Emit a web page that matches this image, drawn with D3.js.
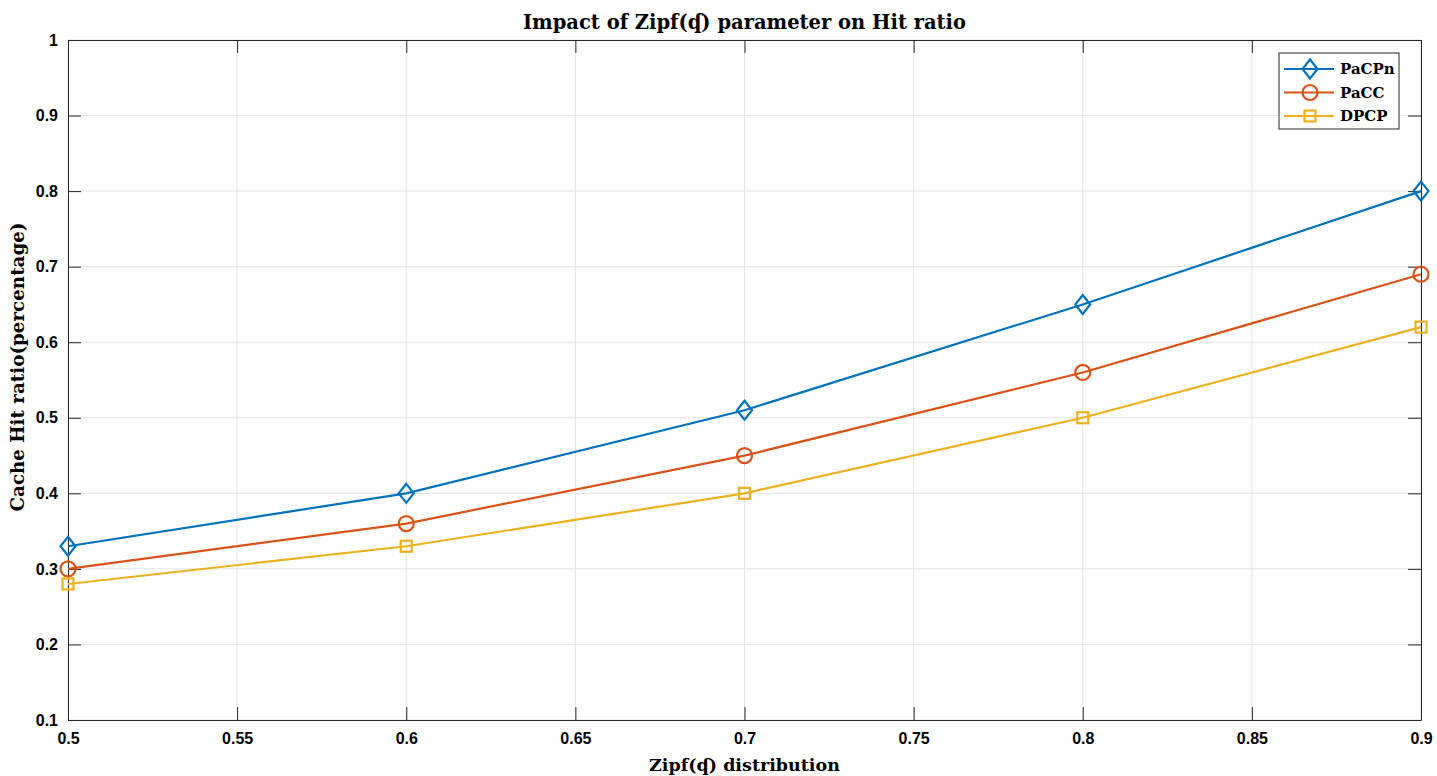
<!DOCTYPE html>
<html>
<head>
<meta charset="utf-8">
<script src="https://cdn.jsdelivr.net/npm/d3@7"></script>
<style>
  body { margin: 0; background: #fff; }
  svg { display: block; }
</style>
</head>
<body>
<svg width="1437" height="776"></svg>
<script>
// data
var zipf = [0.5, 0.6, 0.7, 0.8, 0.9];
var pacpn = [0.33, 0.40, 0.51, 0.65, 0.80];
var pacc = [0.30, 0.36, 0.45, 0.56, 0.69];
var dpcp = [0.28, 0.33, 0.40, 0.50, 0.62];
var seriesNames = ["PaCPn", "PaCC", "DPCP"];
var xTicks = [0.5, 0.55, 0.6, 0.65, 0.7, 0.75, 0.8, 0.85, 0.9];
var yTicks = [0.1, 0.2, 0.3, 0.4, 0.5, 0.6, 0.7, 0.8, 0.9, 1];

var colors = ["#0072BD", "#D95319", "#EDB120"];
var shapes = ["diamond", "circle", "square"];
var allSeries = [pacpn, pacc, dpcp];

var svg = d3.select("svg");
var margin = { top: 40, right: 16, bottom: 56, left: 68 };
var width = +svg.attr("width") - margin.left - margin.right;
var height = +svg.attr("height") - margin.top - margin.bottom;

var g = svg.append("g")
    .attr("transform", "translate(" + margin.left + "," + margin.top + ")");

var x = d3.scaleLinear().domain([0.5, 0.9]).range([0, width]);
var y = d3.scaleLinear().domain([0.1, 1]).range([height, 0]);

var axisColor = "#262626";
var serif = "'DejaVu Serif', 'Liberation Serif', serif";
var sans = "'Liberation Sans', Arial, sans-serif";

// grid
g.append("g").selectAll("line").data(xTicks).enter().append("line")
    .attr("x1", function (d) { return x(d); })
    .attr("x2", function (d) { return x(d); })
    .attr("y1", 0).attr("y2", height)
    .attr("stroke", "#e3e3e3").attr("stroke-width", 1);
g.append("g").selectAll("line").data(yTicks).enter().append("line")
    .attr("y1", function (d) { return y(d); })
    .attr("y2", function (d) { return y(d); })
    .attr("x1", 0).attr("x2", width)
    .attr("stroke", "#e3e3e3").attr("stroke-width", 1);

// axes, ticks pointing inward on all four sides
function styleAxis(sel) {
    sel.select(".domain").attr("stroke", axisColor).attr("stroke-width", 1);
    sel.selectAll(".tick line").attr("stroke", axisColor);
    sel.selectAll(".tick text")
        .attr("fill", "#000")
        .style("font-family", sans)
        .style("font-weight", "bold")
        .style("font-size", "16px");
}

var fmt = function (d) { return d3.format("")(+d.toFixed(2)); };

g.append("g")
    .attr("transform", "translate(0," + height + ")")
    .call(d3.axisBottom(x).tickValues(xTicks).tickFormat(fmt).tickSizeInner(-13).tickSizeOuter(0).tickPadding(13))
    .call(styleAxis);
g.append("g")
    .call(d3.axisTop(x).tickValues(xTicks).tickFormat("").tickSizeInner(-13).tickSizeOuter(0))
    .call(styleAxis);
g.append("g")
    .call(d3.axisLeft(y).tickValues(yTicks).tickFormat(fmt).tickSizeInner(-13).tickSizeOuter(0).tickPadding(10))
    .call(styleAxis);
g.append("g")
    .attr("transform", "translate(" + width + ",0)")
    .call(d3.axisRight(y).tickValues(yTicks).tickFormat("").tickSizeInner(-13).tickSizeOuter(0))
    .call(styleAxis);

// markers
function drawMarker(sel, shape, color) {
    if (shape === "diamond") {
        sel.append("path").attr("d", "M0,-9.5L7.5,0L0,9.5L-7.5,0Z");
    } else if (shape === "circle") {
        sel.append("circle").attr("r", 7.5);
    } else {
        sel.append("rect").attr("x", -5.5).attr("y", -5.5).attr("width", 11).attr("height", 11);
    }
    sel.selectAll("path,circle,rect")
        .attr("fill", "none").attr("stroke", color).attr("stroke-width", 2.2);
}

var line = d3.line()
    .x(function (d, i) { return x(zipf[i]); })
    .y(function (d) { return y(d); });

allSeries.forEach(function (vals, s) {
    g.append("path")
        .datum(vals)
        .attr("d", line)
        .attr("fill", "none")
        .attr("stroke", colors[s])
        .attr("stroke-width", 2.2);
    vals.forEach(function (v, i) {
        var m = g.append("g").attr("transform", "translate(" + x(zipf[i]) + "," + y(v) + ")");
        drawMarker(m, shapes[s], colors[s]);
    });
});

// legend
var legend = svg.append("g").attr("transform", "translate(1279,53)");
legend.append("rect")
    .attr("width", 120).attr("height", 76)
    .attr("fill", "#fff").attr("stroke", axisColor).attr("stroke-width", 1);
seriesNames.forEach(function (name, s) {
    var row = legend.append("g").attr("transform", "translate(0," + (16 + s * 23.5) + ")");
    row.append("line").attr("x1", 5).attr("x2", 55)
        .attr("stroke", colors[s]).attr("stroke-width", 2.2);
    drawMarker(row.append("g").attr("transform", "translate(31,0)"), shapes[s], colors[s]);
    row.append("text").attr("x", 61).attr("dy", "0.35em")
        .style("font-family", serif).style("font-weight", "bold").style("font-size", "15px")
        .text(name);
});

// title and labels
svg.append("text")
    .attr("x", margin.left + width / 2).attr("y", 29)
    .attr("text-anchor", "middle")
    .style("font-family", serif).style("font-weight", "bold").style("font-size", "19.5px")
    .text("Impact of Zipf(ʠ) parameter on Hit ratio");

svg.append("text")
    .attr("x", margin.left + width / 2).attr("y", 771)
    .attr("text-anchor", "middle")
    .style("font-family", serif).style("font-weight", "bold").style("font-size", "17.5px")
    .text("Zipf(ʠ) distribution");

svg.append("text")
    .attr("transform", "translate(24," + (margin.top + height / 2 - 13) + ") rotate(-90)")
    .attr("text-anchor", "middle")
    .style("font-family", serif).style("font-weight", "bold").style("font-size", "18.3px")
    .text("Cache Hit ratio(percentage)");
</script>
</body>
</html>
